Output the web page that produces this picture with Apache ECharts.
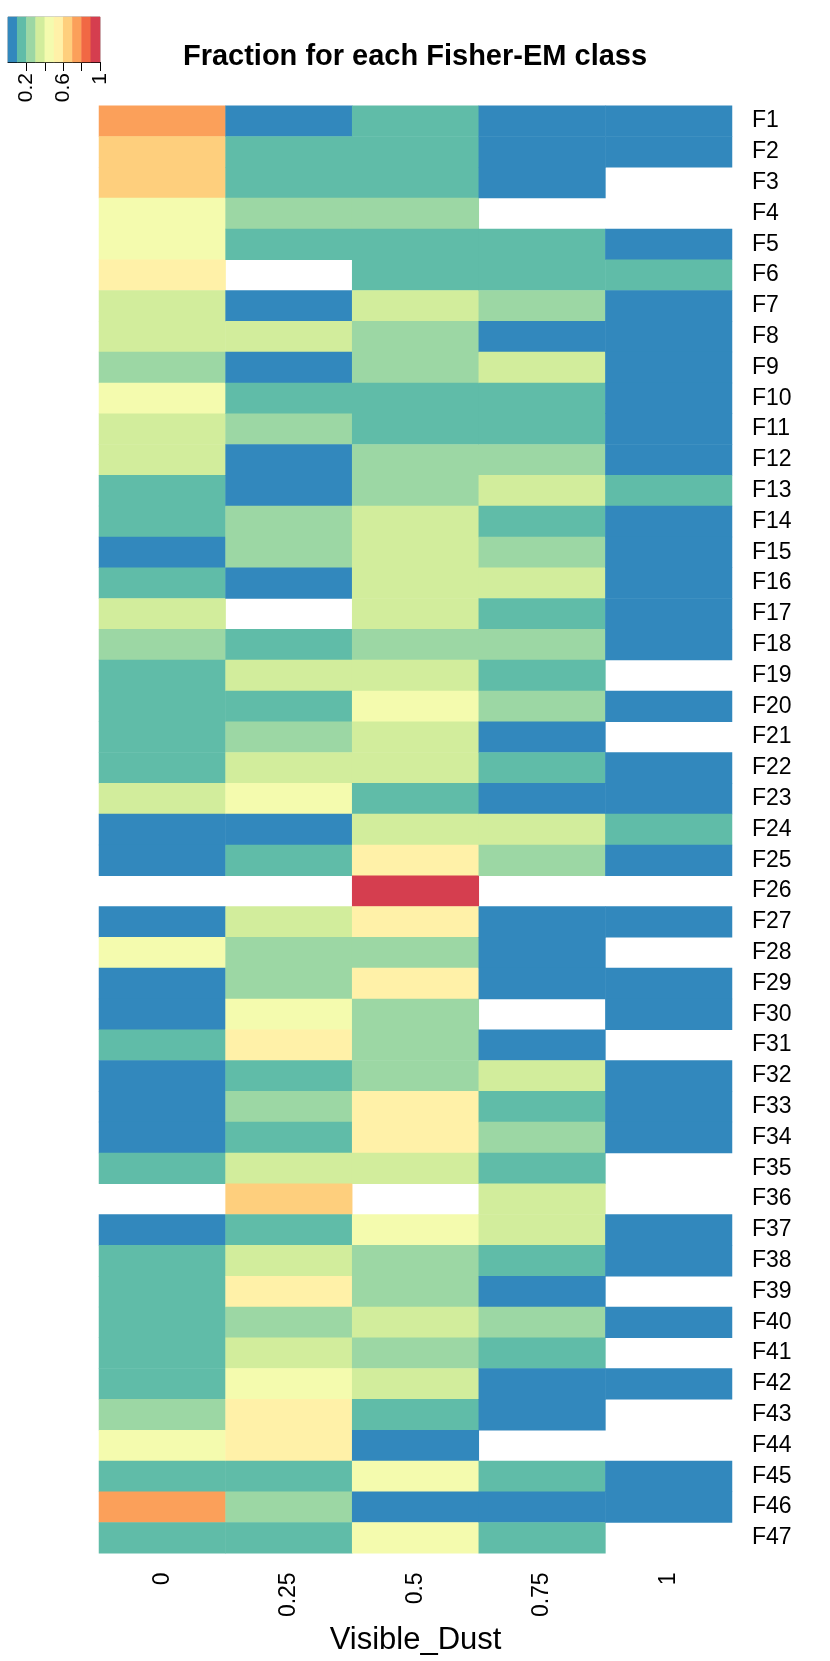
<!DOCTYPE html>
<html>
<head>
<meta charset="utf-8">
<script src="https://cdn.jsdelivr.net/npm/echarts@6/dist/echarts.min.js"></script>
<style>
html,body{margin:0;padding:0;background:#fff;}
#chart{width:830px;height:1661px;}
</style>
</head>
<body>
<div id="chart"></div>
<script>
// Column categories (Visible_Dust levels)
const dustLevels = ['0', '0.25', '0.5', '0.75', '1'];
// Row categories (Fisher-EM classes)
const classNames = ['F1','F2','F3','F4','F5','F6','F7','F8','F9','F10',
  'F11','F12','F13','F14','F15','F16','F17','F18','F19','F20',
  'F21','F22','F23','F24','F25','F26','F27','F28','F29','F30',
  'F31','F32','F33','F34','F35','F36','F37','F38','F39','F40',
  'F41','F42','F43','F44','F45','F46','F47'];

// Fractions per class (F1..F47) for each Visible_Dust level; null = no data
const dust0 = [0.75,0.65,0.65,0.45,0.45,0.55,0.35,0.35,0.25,0.45,
  0.35,0.35,0.15,0.15,0.05,0.15,0.35,0.25,0.15,0.15,
  0.15,0.15,0.35,0.05,0.05,null,0.05,0.45,0.05,0.05,
  0.15,0.05,0.05,0.05,0.15,null,0.05,0.15,0.15,0.15,
  0.15,0.15,0.25,0.45,0.15,0.75,0.15];
const dust025 = [0.05,0.15,0.15,0.25,0.15,null,0.05,0.35,0.05,0.15,
  0.25,0.05,0.05,0.25,0.25,0.05,null,0.15,0.35,0.15,
  0.25,0.35,0.45,0.05,0.15,null,0.35,0.25,0.25,0.45,
  0.55,0.15,0.25,0.15,0.35,0.65,0.15,0.35,0.55,0.25,
  0.35,0.45,0.55,0.55,0.15,0.25,0.15];
const dust05 = [0.15,0.15,0.15,0.25,0.15,0.15,0.35,0.25,0.25,0.15,
  0.15,0.25,0.25,0.35,0.35,0.35,0.35,0.25,0.35,0.45,
  0.35,0.35,0.15,0.35,0.55,0.95,0.55,0.25,0.55,0.25,
  0.25,0.25,0.55,0.55,0.35,null,0.45,0.25,0.25,0.35,
  0.25,0.35,0.15,0.05,0.45,0.05,0.45];
const dust075 = [0.05,0.05,0.05,null,0.15,0.15,0.25,0.05,0.35,0.15,
  0.15,0.25,0.35,0.15,0.25,0.35,0.15,0.25,0.15,0.25,
  0.05,0.15,0.05,0.35,0.25,null,0.05,0.05,0.05,null,
  0.05,0.35,0.15,0.25,0.15,0.35,0.35,0.15,0.05,0.25,
  0.15,0.05,0.05,null,0.15,0.05,0.15];
const dust1 = [0.05,0.05,null,null,0.05,0.15,0.05,0.05,0.05,0.05,
  0.05,0.05,0.15,0.05,0.05,0.05,0.05,0.05,null,0.05,
  null,0.05,0.05,0.15,0.05,null,0.05,null,0.05,0.05,
  null,0.05,0.05,0.05,null,null,0.05,0.05,null,0.05,
  null,0.05,null,null,0.05,0.05,null];

// Colour key: 10 bins from 0 to 1
const keyBins = ['0-0.1','0.1-0.2','0.2-0.3','0.3-0.4','0.4-0.5','0.5-0.6','0.6-0.7','0.7-0.8','0.8-0.9','0.9-1'];
const keyValues = [0.05,0.15,0.25,0.35,0.45,0.55,0.65,0.75,0.85,0.95];
const keyTicks = [0.2, 0.4, 0.6, 0.8, 1];
const keyTickLabels = [0.2, 0.6, 1];
const palette = ['#3288BD','#60BCA8','#9CD7A4','#D2ED9C','#F4FBAE','#FFF1A8','#FECF7D','#FBA05A','#F16844','#D53E4F'];

const columns = [dust0, dust025, dust05, dust075, dust1];
const heatData = [];
columns.forEach((col, ci) => {
  col.forEach((v, ri) => {
    if (v !== null) heatData.push([ci, ri, v]);
  });
});
const keyData = keyValues.map((v, i) => [i, 0, v]);

const pieces = palette.map((c, i) => ({
  gte: i / 10, lt: (i + 1) / 10 + (i === 9 ? 0.001 : 0), color: c
}));

const FONT = 'Liberation Sans';
const chart = echarts.init(document.getElementById('chart'), null, {renderer: 'canvas'});
chart.setOption({
  backgroundColor: '#ffffff',
  animation: false,
  title: {
    text: 'Fraction for each Fisher-EM class',
    left: 'center',
    top: 37,
    textStyle: {fontFamily: FONT, fontSize: 29, fontWeight: 'bold', color: '#000'}
  },
  visualMap: {
    type: 'piecewise',
    show: false,
    dimension: 2,
    seriesIndex: [0, 1],
    pieces: pieces
  },
  grid: [
    {left: 99, right: 98, top: 105.7, bottom: 98.3},
    {left: 8, top: 17, width: 92, height: 45, show: true, borderColor: '#555', borderWidth: 0.6, backgroundColor: 'transparent'}
  ],
  xAxis: [
    {
      type: 'category', gridIndex: 0, data: dustLevels, position: 'bottom',
      name: 'Visible_Dust', nameLocation: 'middle', nameGap: 68,
      nameTextStyle: {fontFamily: FONT, fontSize: 31, color: '#000'},
      axisLine: {show: false}, axisTick: {show: false}, splitLine: {show: false},
      axisLabel: {rotate: 90, margin: 19, fontFamily: FONT, fontSize: 23, color: '#000',
        interval: 0, padding: [0, 0, 16, 0]}
    },
    {
      type: 'category', gridIndex: 1, data: keyBins, position: 'top', show: false
    },
    {
      type: 'value', gridIndex: 1, min: 0, max: 1, position: 'bottom',
      axisLine: {show: true, lineStyle: {color: '#000', width: 1}},
      axisTick: {show: true, length: 9, customValues: keyTicks, lineStyle: {color: '#000', width: 1}},
      axisLabel: {show: true, customValues: keyTickLabels, rotate: 90, margin: 11,
        fontFamily: FONT, fontSize: 21, color: '#000'},
      splitLine: {show: false}
    }
  ],
  yAxis: [
    {
      type: 'category', gridIndex: 0, data: classNames, inverse: true, position: 'right',
      axisLine: {show: false}, axisTick: {show: false}, splitLine: {show: false},
      axisLabel: {margin: 20, fontFamily: FONT, fontSize: 23, color: '#000', interval: 0}
    },
    {
      type: 'category', gridIndex: 1, data: ['key'], show: false
    }
  ],
  series: [
    {
      type: 'heatmap', xAxisIndex: 0, yAxisIndex: 0, data: heatData,
      itemStyle: {borderWidth: 0}, emphasis: {disabled: true}
    },
    {
      type: 'heatmap', xAxisIndex: 1, yAxisIndex: 1, data: keyData,
      itemStyle: {borderWidth: 0}, emphasis: {disabled: true}
    }
  ]
});
</script>
</body>
</html>
